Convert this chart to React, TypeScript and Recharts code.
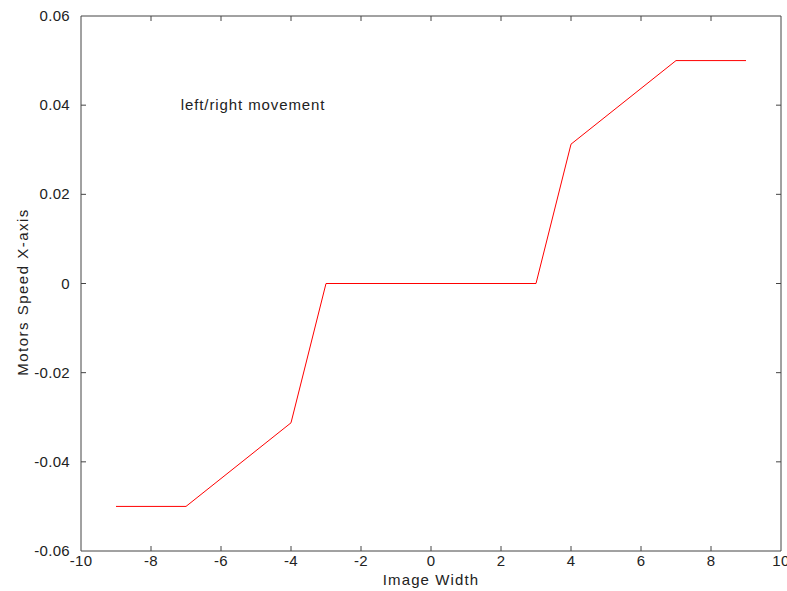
import React from 'react';
import { LineChart, Line, XAxis, YAxis, ReferenceDot } from 'recharts';

const xValues = [-9, -7, -4, -3, 3, 4, 7, 9];
const speedValues = [-0.05, -0.05, -0.03125, 0, 0, 0.03125, 0.05, 0.05];
const xTicks = [-10, -8, -6, -4, -2, 0, 2, 4, 6, 8, 10];
const yTicks = [-0.06, -0.04, -0.02, 0, 0.02, 0.04, 0.06];
const annotation = { x: -7.15, y: 0.04, text: 'left/right movement' };

const data = xValues.map((x, i) => ({ x, y: speedValues[i] }));

const FONT = '"Liberation Sans", Arial, sans-serif';
const AXIS = '#444';
const TEXT = '#222';
const TICK_LEN = 5;

const fmtY = (v: number) => (v === 0 ? '0' : String(Number(v.toFixed(2))));

const BottomTick = (props: any) => {
  const { x, y, payload } = props;
  const isEdge = payload.value === -10 || payload.value === 10;
  return (
    <g>
      {!isEdge && <line x1={x} x2={x} y1={y} y2={y - TICK_LEN} stroke={AXIS} />}
      <text x={x} y={y + 15} textAnchor="middle" fill={TEXT} fontSize={15} fontFamily={FONT} letterSpacing={0.3}>
        {payload.value}
      </text>
    </g>
  );
};

const TopTick = (props: any) => {
  const { x, y, payload } = props;
  if (payload.value === -10 || payload.value === 10) return <g />;
  return <line x1={x} x2={x} y1={y} y2={y + TICK_LEN} stroke={AXIS} />;
};

const LeftTick = (props: any) => {
  const { x, y, payload } = props;
  const isEdge = payload.value === -0.06 || payload.value === 0.06;
  return (
    <g>
      {!isEdge && <line x1={x} x2={x + TICK_LEN} y1={y} y2={y} stroke={AXIS} />}
      <text x={x - 11} y={y + 5} textAnchor="end" fill={TEXT} fontSize={15} fontFamily={FONT} letterSpacing={0.3}>
        {fmtY(payload.value)}
      </text>
    </g>
  );
};

const RightTick = (props: any) => {
  const { x, y, payload } = props;
  if (payload.value === -0.06 || payload.value === 0.06) return <g />;
  return <line x1={x} x2={x - TICK_LEN} y1={y} y2={y} stroke={AXIS} />;
};

export default function App() {
  return (
    <div style={{ position: 'absolute', left: 0, top: 0, width: 787, height: 591, background: '#fff' }}>
      <LineChart
        width={787}
        height={591}
        data={data}
        margin={{ top: 15, right: 5, bottom: 10, left: 21 }}
        style={{ fontFamily: FONT }}
      >
        <XAxis
          dataKey="x"
          type="number"
          domain={[-10, 10]}
          ticks={xTicks}
          interval={0}
          height={30}
          tickSize={0}
          tickMargin={0}
          tickLine={false}
          stroke={AXIS}
          tick={<BottomTick />}
          allowDataOverflow
          label={{
            content: (props: any) => {
              const vb = props.viewBox || {};
              return (
                <text x={vb.x + vb.width / 2} y={585} textAnchor="middle" fill={TEXT} fontSize={15} fontFamily={FONT} letterSpacing={1.1}>
                  Image Width
                </text>
              );
            },
          }}
        />
        <XAxis
          xAxisId="top"
          orientation="top"
          dataKey="x"
          type="number"
          domain={[-10, 10]}
          ticks={xTicks}
          interval={0}
          height={1}
          tickSize={0}
          tickMargin={0}
          tickLine={false}
          tick={<TopTick />}
          stroke={AXIS}
          allowDataOverflow
        />
        <YAxis
          type="number"
          domain={[-0.06, 0.06]}
          ticks={yTicks}
          interval={0}
          width={60}
          tickSize={0}
          tickMargin={0}
          tickLine={false}
          stroke={AXIS}
          tick={<LeftTick />}
          allowDataOverflow
          label={{
            content: () => {
              const cx = 28;
              const cy = 292;
              return (
                <text
                  x={cx}
                  y={cy}
                  transform={`rotate(-90, ${cx}, ${cy})`}
                  textAnchor="middle"
                  fill={TEXT}
                  fontSize={15}
                  fontFamily={FONT}
                  letterSpacing={1.5}
                >
                  Motors Speed X-axis
                </text>
              );
            },
          }}
        />
        <YAxis
          yAxisId="right"
          orientation="right"
          type="number"
          domain={[-0.06, 0.06]}
          ticks={yTicks}
          interval={0}
          width={1}
          tickSize={0}
          tickMargin={0}
          tickLine={false}
          tick={<RightTick />}
          stroke={AXIS}
          allowDataOverflow
        />
        <ReferenceDot
          x={annotation.x}
          y={annotation.y}
          r={0}
          fill="none"
          stroke="none"
          label={{
            content: (props: any) => {
              const vb = props.viewBox || {};
              return (
                <text x={vb.x} y={vb.y + 5} textAnchor="start" fill={TEXT} fontSize={15} fontFamily={FONT} letterSpacing={0.9}>
                  {annotation.text}
                </text>
              );
            },
          }}
        />
        <Line
          dataKey="y"
          type="linear"
          stroke="#ff0000"
          strokeWidth={1}
          dot={false}
          activeDot={false}
          isAnimationActive={false}
        />
      </LineChart>
    </div>
  );
}
